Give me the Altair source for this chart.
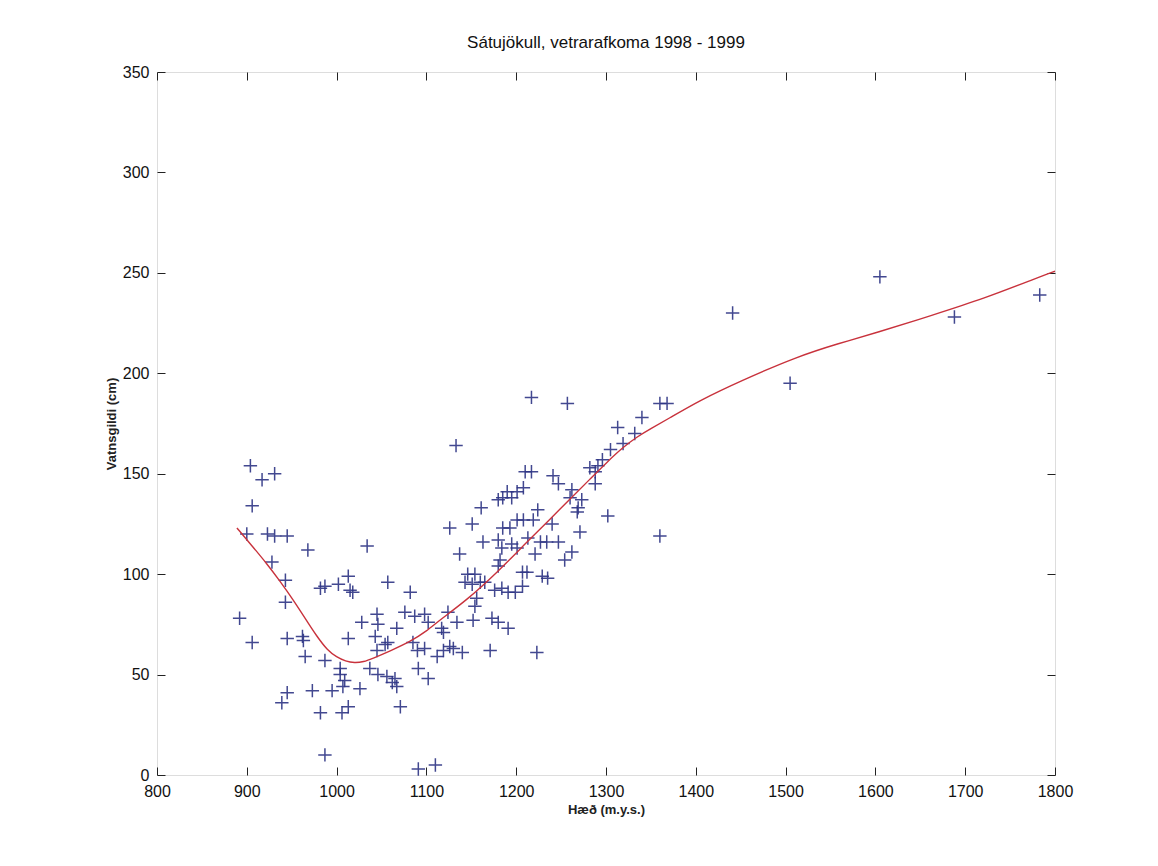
import altair as alt
import pandas as pd

# Winter balance survey points: elevation (m a.s.l.) and water equivalent (cm)
haed = [
    904, 917, 931, 906, 900, 923, 931, 945, 968, 1034, 928, 943, 982, 987, 1002, 1013, 1015, 1018, 1057,
    892, 906, 943, 945, 962, 963, 965, 987, 1013, 1028, 1045, 1046, 1043, 1045, 1054, 1004, 1004, 1009,
    1037, 1046, 1056, 945, 939, 973, 995, 1007, 1026, 982, 1006, 1013, 987,
    1133, 1210, 1217, 1241, 1180, 1185, 1190, 1195, 1201, 1208, 1161, 1224, 1126, 1151, 1185, 1193, 1201,
    1208, 1219, 1213, 1163, 1180, 1184, 1195, 1201, 1227, 1234, 1221, 1137, 1182, 1180, 1207, 1212, 1229,
    1235, 1146, 1154, 1143, 1151, 1160, 1165, 1176, 1184, 1191, 1199, 1207, 1082,
    1076, 1087, 1098, 1102, 1124, 1134, 1117, 1119, 1152, 1154, 1156, 1173, 1180, 1191, 1067, 1057, 1085,
    1090, 1098, 1112, 1119, 1126, 1130, 1140, 1171, 1223, 1091, 1102, 1065, 1062, 1067, 1071, 1091, 1110,
    1257, 1360, 1368, 1340, 1313, 1332, 1319, 1305, 1296, 1291, 1282, 1288, 1247, 1288, 1262, 1260, 1273,
    1269, 1268, 1302, 1360, 1240, 1271, 1247, 1262, 1254,
    1217, 1441, 1605, 1505, 1688, 1783,
]
vatnsgildi = [
    154, 147, 150, 134, 120, 120, 119, 119, 112, 114, 106, 97, 93, 94, 95, 99, 92, 91, 96,
    78, 66, 86, 68, 69, 67, 59, 57, 68, 76, 80, 75, 69, 62, 65, 53, 50, 47,
    53, 50, 49, 41, 36, 42, 42, 44, 43, 31, 31, 34, 10,
    164, 151, 151, 149, 137, 138, 141, 138, 141, 143, 133, 132, 123, 125, 123, 123, 127,
    127, 127, 118, 116, 117, 113, 115, 113, 116, 116, 110, 110, 107, 104, 101, 101, 99,
    98, 100, 100, 96, 95, 96, 96, 92, 93, 91, 91, 94, 91,
    81, 79, 80, 76, 81, 76, 73, 71, 77, 84, 88, 78, 76, 73, 73, 66, 66,
    62, 63, 59, 62, 64, 63, 61, 62, 61, 53, 48, 48, 46, 44, 34, 3, 5,
    185, 185, 185, 178, 173, 170, 165, 162, 157, 154, 153, 151, 145, 145, 142, 138, 137,
    133, 131, 129, 119, 125, 121, 116, 111, 107,
    188, 230, 248, 195, 228, 239,
]

# Smoothed fit through the data
fit_haed = [889, 905, 922, 937, 952, 965, 978, 990, 1000, 1010, 1020, 1030, 1040, 1060, 1082,
            1100, 1115, 1145, 1178, 1212, 1238, 1260, 1282, 1300, 1319, 1335, 1350, 1368, 1405,
            1450, 1512, 1560, 1600, 1664, 1720, 1783, 1800]
fit_vatn = [123, 114.5, 105.4, 96.5, 87, 78, 69, 62, 58.7, 56.6, 55.8, 56.3, 58, 61.8, 66.4,
            71.5, 77.2, 87.1, 100.5, 116, 127.5, 137.5, 147.2, 155.3, 163.2, 168.5, 172.5, 177, 186.7,
            196.2, 208.2, 215, 220, 229, 237, 248, 250.8]

x_ticks = list(range(800, 1801, 100))
y_ticks = list(range(0, 351, 50))

pts = pd.DataFrame({"h": haed, "v": vatnsgildi})
fit = pd.DataFrame({"h": fit_haed, "v": fit_vatn})

FONT = "Liberation Sans"
TICK = 8

x_scale = alt.Scale(domain=[800, 1800], nice=False, zero=False)
y_scale = alt.Scale(domain=[0, 350], nice=False)

plus = "M-1,0L1,0M0,-1L0,1"

points = alt.Chart(pts).mark_point(
    shape=plus, size=180, strokeWidth=1.5, color="#2e3585", opacity=0.9, filled=False
).encode(
    x=alt.X("h:Q", scale=x_scale, axis=alt.Axis(
        orient="bottom", values=x_ticks, format="d", title="Hæð (m.y.s.)", offset=-TICK,
        tickSize=TICK, domain=False, tickColor="#222", labelPadding=8, labelFont=FONT,
        labelFontSize=16, labelColor="#111", labelFlush=False, titleFont=FONT,
        titleFontSize=13, titleFontWeight="bold", titleColor="#222", titlePadding=4,
        grid=False)),
    y=alt.Y("v:Q", scale=y_scale, axis=alt.Axis(
        orient="left", values=y_ticks, format="d", title="Vatnsgildi (cm)", offset=-TICK,
        tickSize=TICK, domain=False, tickColor="#222", labelPadding=8, labelFont=FONT,
        labelFontSize=16, labelColor="#111", labelFlush=False, titleFont=FONT,
        titleFontSize=13, titleFontWeight="bold", titleColor="#222", titlePadding=4,
        grid=False)),
)

curve = alt.Chart(fit).mark_line(
    color="#c8323c", strokeWidth=1.4, interpolate="basis"
).encode(
    x=alt.X("h:Q", scale=x_scale, axis=alt.Axis(
        orient="top", values=x_ticks, labels=False, title=None, offset=-TICK, tickSize=TICK,
        domain=False, tickColor="#222", grid=False)),
    y=alt.Y("v:Q", scale=y_scale, axis=alt.Axis(
        orient="right", values=y_ticks, labels=False, title=None, offset=-TICK, tickSize=TICK,
        domain=False, tickColor="#222", grid=False)),
)

chart = alt.layer(points, curve).resolve_axis(x="independent", y="independent").properties(
    width=898,
    height=703,
    title=alt.TitleParams("Sátujökull, vetrarafkoma 1998 - 1999", font=FONT, fontSize=17,
                          fontWeight="normal", color="#111", offset=12),
    autosize=alt.AutoSizeParams(type="none"),
    padding={"left": 157, "top": 72, "right": 103, "bottom": 91},
).configure_view(stroke="#222", strokeWidth=1.2).configure(background="white")

chart.save("out.html", embed_options={"renderer": "svg", "actions": False})
